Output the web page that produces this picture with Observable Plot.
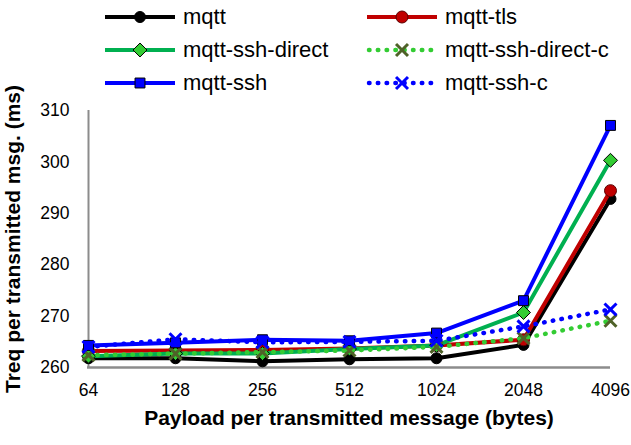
<!DOCTYPE html>
<html>
<head>
<meta charset="utf-8">
<script src="https://cdn.jsdelivr.net/npm/d3@7"></script>
<script src="https://cdn.jsdelivr.net/npm/@observablehq/plot@0.6"></script>
<style>
  html, body { margin: 0; padding: 0; background: #fff; }
  #wrap { position: relative; width: 631px; height: 445px; font-family: "Liberation Sans", Arial, sans-serif; }
  #legend { position: absolute; left: 105px; top: 0px; display: grid; grid-template-columns: 262px auto; grid-auto-rows: 33px; align-items: center; pointer-events: none; }
  .entry { display: flex; align-items: center; font-size: 22px; color: #000; white-space: nowrap; }
  .entry svg { margin-right: 8px; overflow: visible; }
  g[aria-label="y-axis label"], g[aria-label="x-axis label"] { font-weight: bold; font-size: 21px; }
  g[aria-label="y-axis tick label"], g[aria-label="x-axis tick label"] { font-size: 17.5px; }
</style>
</head>
<body>
<div id="wrap">
  <div id="chart"></div>
  <div id="legend"></div>
</div>
<script>
// ---- data ----
const categories = ["64", "128", "256", "512", "1024", "2048", "4096"];
const seriesNames = ["mqtt", "mqtt-tls", "mqtt-ssh-direct", "mqtt-ssh-direct-c", "mqtt-ssh", "mqtt-ssh-c"];
const mqtt            = [261.8, 261.8, 261.2, 261.6, 261.8, 264.4, 292.8];
const mqttTls         = [263.2, 263.3, 263.4, 263.7, 264.3, 265.4, 294.4];
const mqttSshDirect   = [262.2, 262.7, 262.7, 263.6, 264.3, 270.7, 300.3];
const mqttSshDirectC  = [262.4, 262.7, 263.0, 263.3, 264.0, 265.7, 269.1];
const mqttSsh         = [264.3, 264.8, 265.4, 265.2, 266.7, 273.0, 307.1];
const mqttSshC        = [264.0, 265.5, 264.9, 265.0, 265.2, 268.0, 271.3];
const yTicks = [260, 270, 280, 290, 300, 310];
const yDomain = [260, 310];
const xTitle = "Payload per transmitted message (bytes)";
const yTitle = "Treq per transmitted msg. (ms)";

const seriesValues = [mqtt, mqttTls, mqttSshDirect, mqttSshDirectC, mqttSsh, mqttSshC];

// ---- styles ----
const styles = {
  "mqtt":              {stroke: "#000000", dash: null, symbol: "circle", r: 5.5, fill: "#000000", mstroke: "#000000", msw: 1},
  "mqtt-tls":          {stroke: "#c00000", dash: null, symbol: "circle", r: 6, fill: "#c00000", mstroke: "#5a0000", msw: 1},
  "mqtt-ssh-direct":   {stroke: "#00b050", dash: null, symbol: "diamond2", r: 6.3, fill: "#33cc33", mstroke: "#000000", msw: 1},
  "mqtt-ssh-direct-c": {stroke: "#33cc33", dash: "0.5 8.3", symbol: "times", r: 5.5, fill: "none", mstroke: "#4f6228", msw: 3},
  "mqtt-ssh":          {stroke: "#0000ff", dash: null, symbol: "square", r: 5.6, fill: "#0000ff", mstroke: "#000000", msw: 1},
  "mqtt-ssh-c":        {stroke: "#0000ff", dash: "0.5 8.3", symbol: "times", r: 5.5, fill: "none", mstroke: "#0000ff", msw: 3}
};

const table = [];
seriesNames.forEach((s, i) => categories.forEach((c, j) => table.push({series: s, x: c, y: seriesValues[i][j]})));

const marks = [
  Plot.ruleY([yDomain[0]], {stroke: "#8c8c8c", strokeWidth: 2.5}),
  Plot.ruleX([categories[0]], {stroke: "#8c8c8c", strokeWidth: 2}),
  Plot.axisY({ticks: yTicks, tickSize: 0, tickPadding: 18, label: yTitle, labelAnchor: "center", labelArrow: "none", labelOffset: 82, tickFormat: d => String(d)}),
  Plot.axisX({tickSize: 0, tickPadding: 16, label: xTitle, labelAnchor: "center", labelArrow: "none", labelOffset: 57})
];
seriesNames.forEach(s => {
  const st = styles[s];
  const data = table.filter(d => d.series === s);
  marks.push(Plot.line(data, {x: "x", y: "y", stroke: st.stroke, strokeWidth: st.dash ? 4.5 : 4, strokeDasharray: st.dash || undefined, strokeLinecap: st.dash ? "round" : "butt", strokeLinejoin: "round"}));
  marks.push(Plot.dot(data, {x: "x", y: "y", symbol: () => st.symbol, r: st.r, fill: st.fill, stroke: st.mstroke, strokeWidth: st.msw}));
});

const chart = Plot.plot({
  width: 631,
  height: 445,
  marginTop: 110,
  marginBottom: 78,
  marginLeft: 87,
  marginRight: 21,
  style: {fontFamily: "'Liberation Sans', Arial, sans-serif", fontSize: "17.5px", color: "#000", background: "white"},
  x: {type: "point", domain: categories, padding: 0},
  y: {domain: yDomain},
  symbol: {type: "identity"},
  marks
});
document.getElementById("chart").appendChild(chart);

// ---- legend ----
const legend = document.getElementById("legend");
const symMap = {circle: d3.symbolCircle, diamond2: d3.symbolDiamond2, times: d3.symbolTimes, square: d3.symbolSquare};
seriesNames.forEach(s => {
  const st = styles[s];
  const e = document.createElement("div");
  e.className = "entry";
  const ns = "http://www.w3.org/2000/svg";
  const svg = document.createElementNS(ns, "svg");
  svg.setAttribute("width", 70); svg.setAttribute("height", 20);
  const ln = document.createElementNS(ns, "line");
  ln.setAttribute("x1", st.dash ? 2 : 0); ln.setAttribute("x2", st.dash ? 68 : 70);
  ln.setAttribute("y1", 10); ln.setAttribute("y2", 10);
  ln.setAttribute("stroke", st.stroke);
  ln.setAttribute("stroke-width", st.dash ? 4.5 : 4);
  if (st.dash) { ln.setAttribute("stroke-dasharray", st.dash); ln.setAttribute("stroke-linecap", "round"); }
  svg.appendChild(ln);
  const p = document.createElementNS(ns, "path");
  p.setAttribute("d", d3.symbol(symMap[st.symbol], Math.PI * st.r * st.r)());
  p.setAttribute("transform", "translate(35,10)");
  p.setAttribute("fill", st.fill);
  p.setAttribute("stroke", st.mstroke);
  p.setAttribute("stroke-width", st.msw);
  svg.appendChild(p);
  e.appendChild(svg);
  const t = document.createElement("span");
  t.textContent = s;
  e.appendChild(t);
  legend.appendChild(e);
});
</script>
</body>
</html>
